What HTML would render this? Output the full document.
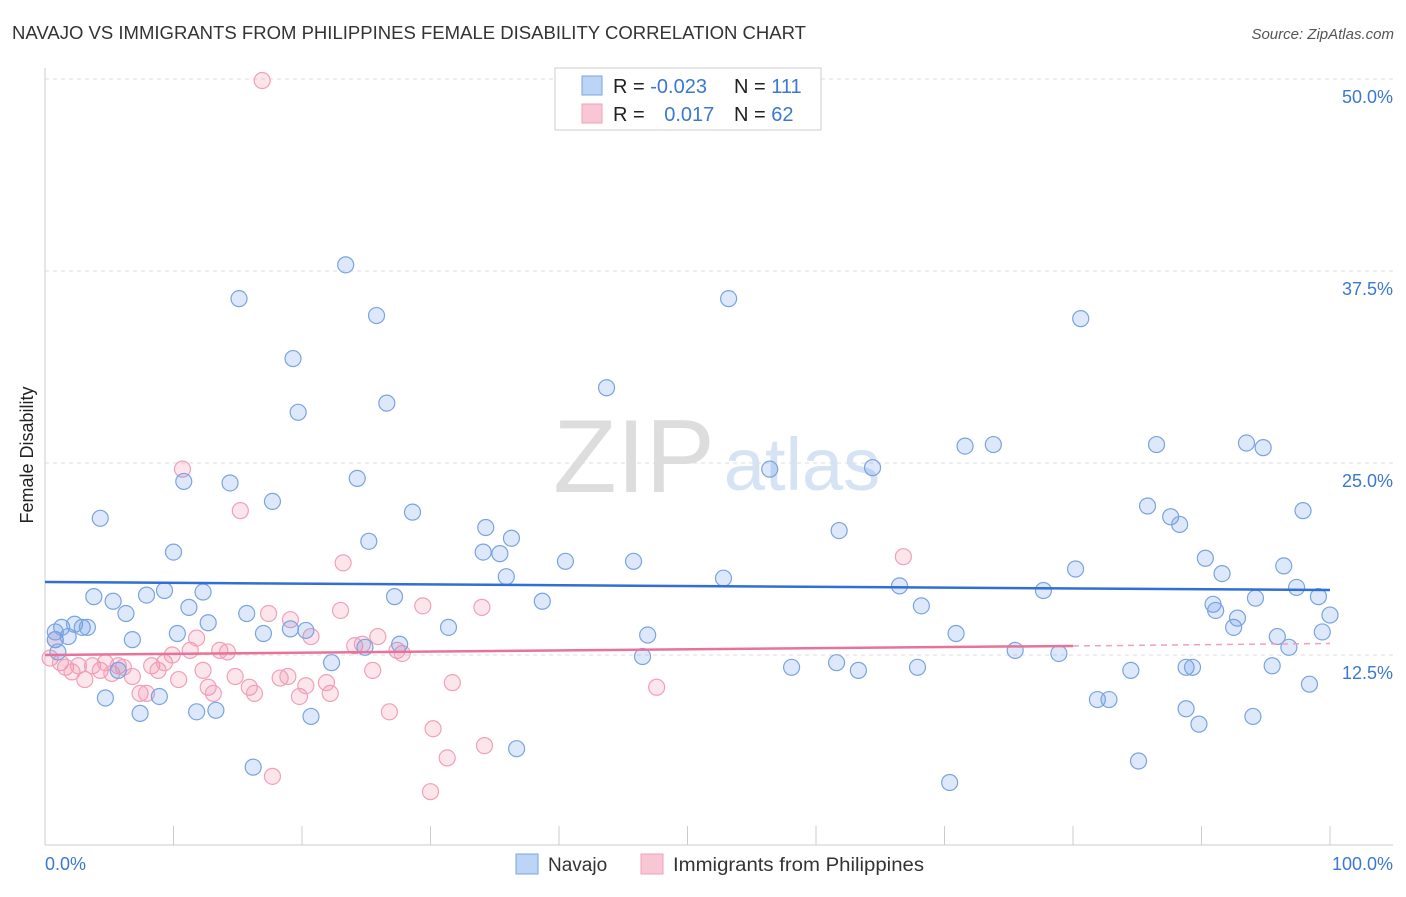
<!DOCTYPE html>
<html><head><meta charset="utf-8">
<style>
body{margin:0;background:#fff;font-family:"Liberation Sans",sans-serif;}
svg text{font-family:"Liberation Sans",sans-serif;}
</style></head>
<body>
<svg id="chart" width="1406" height="892">
<text x="12" y="39" font-size="18" fill="#333" textLength="794" lengthAdjust="spacingAndGlyphs">NAVAJO VS IMMIGRANTS FROM PHILIPPINES FEMALE DISABILITY CORRELATION CHART</text>
<text x="1394" y="39" font-size="15" fill="#555" font-style="italic" text-anchor="end">Source: ZipAtlas.com</text>
<text x="33" y="455" font-size="18" fill="#222" text-anchor="middle" transform="rotate(-90 33 455)">Female Disability</text>
<g>
<text x="634" y="492" font-size="104" fill="#ddd" font-family="Liberation Serif" text-anchor="middle">ZIP</text>
<text x="802" y="490" font-size="74" fill="#d5e3f5" text-anchor="middle">atlas</text>
</g>
<g id="grid"></g>
<g id="pts"></g>
<g id="trend"></g>
<g>
<rect x="555" y="68" width="266" height="62" fill="#fff" stroke="#ccc"/>
<rect x="582" y="76" width="20" height="19" fill="#bcd4f5" stroke="#7aa4e0"/>
<rect x="582" y="104" width="20" height="19" fill="#f8c6d4" stroke="#f0a0b8"/>
<text x="613" y="93" font-size="20" fill="#222">R = <tspan fill="#3a78d4">-0.023</tspan></text>
<text x="734" y="93" font-size="20" fill="#222">N = <tspan fill="#3a78d4">111</tspan></text>
<text x="613" y="121" font-size="20" fill="#222">R = <tspan fill="#3a78d4" dx="14">0.017</tspan></text>
<text x="734" y="121" font-size="20" fill="#222">N = <tspan fill="#3a78d4">62</tspan></text>
</g>
<g>
<rect x="516" y="854" width="22" height="20" fill="#bcd4f5" stroke="#7aa4e0"/>
<text x="548" y="871" font-size="19" fill="#333">Navajo</text>
<rect x="641" y="854" width="22" height="20" fill="#f8c6d4" stroke="#f0a0b8"/>
<text x="673" y="871" font-size="19" fill="#333" textLength="251" lengthAdjust="spacingAndGlyphs">Immigrants from Philippines</text>
</g>
</svg>
<script>
const yTicks=[12.5,25,37.5,50];
const yTickLabels=["12.5%","25.0%","37.5%","50.0%"];
const xTickLabels=["0.0%","100.0%"];
const navajoX=[0.8,0.8,1.0,1.3,1.8,2.3,2.9,3.3,3.8,4.3,4.7,5.3,5.7,6.3,6.8,7.4,7.9,8.9,9.3,10.0,10.3,11.2,11.8,12.3,12.7,13.3,14.4,10.8,15.1,15.7,16.2,17.0,17.7,19.1,19.3,19.7,20.3,20.7,22.3,23.4,24.3,24.9,25.2,25.8,26.6,27.2,27.6,28.6,31.4,34.1,34.3,35.4,35.9,36.3,36.7,38.7,40.5,43.7,45.8,46.5,46.9,52.8,53.2,56.4,58.1,61.6,61.8,63.3,64.4,66.5,67.9,68.2,70.4,70.9,71.6,73.8,75.5,77.7,78.9,80.2,80.6,81.9,82.8,84.5,85.1,85.8,86.5,87.6,88.3,88.8,89.3,90.3,90.9,91.1,91.6,92.5,92.8,93.5,94.0,94.2,94.8,95.5,95.9,96.4,96.8,97.4,97.9,98.4,99.1,99.4,100.0,89.8,88.8];
const navajoY=[14.0,13.5,12.7,14.3,13.7,14.5,14.3,14.3,16.3,21.4,9.7,16.0,11.5,15.2,13.5,8.7,16.4,9.8,16.7,19.2,13.9,15.6,8.8,16.6,14.6,8.9,23.7,23.8,35.7,15.2,5.2,13.9,22.5,14.2,31.8,28.3,14.1,8.5,12.0,37.9,24.0,13.0,19.9,34.6,28.9,16.3,13.2,21.8,14.3,19.2,20.8,19.1,17.6,20.1,6.4,16.0,18.6,29.9,18.6,12.4,13.8,17.5,35.7,24.6,11.7,12.0,20.6,11.5,24.7,17.0,11.7,15.7,4.2,13.9,26.1,26.2,12.8,16.7,12.6,18.1,34.4,9.6,9.6,11.5,5.6,22.2,26.2,21.5,21.0,11.7,11.7,18.8,15.8,15.4,17.8,14.3,14.9,26.3,8.5,16.2,26.0,11.8,13.7,18.3,13.0,16.9,21.9,10.6,16.3,14.0,15.1,8.0,9.0];
const philX=[16.9,10.7,15.2,23.2,66.8,0.4,0.8,1.2,1.6,2.1,2.6,3.1,3.7,4.3,4.7,5.2,5.7,6.1,6.8,7.4,7.9,8.3,8.8,9.3,9.9,10.4,11.3,11.8,12.3,12.7,13.1,13.6,14.2,14.8,15.9,16.3,17.4,17.7,18.3,18.9,19.1,19.8,20.3,20.7,22.2,21.9,23.0,24.1,24.7,25.5,25.9,26.8,27.4,27.8,29.4,30.2,30.0,31.3,31.7,34.0,34.2,47.6];
const philY=[49.9,24.6,21.9,18.5,18.9,12.3,13.5,12.0,11.7,11.4,11.8,10.9,11.8,11.5,12.0,11.3,11.8,11.7,11.1,10.0,10.0,11.8,11.5,12.0,12.5,10.9,12.8,13.6,11.5,10.4,10.0,12.8,12.7,11.1,10.4,10.0,15.2,4.6,11.0,11.1,14.8,9.8,10.5,13.7,10.0,10.7,15.4,13.1,13.2,11.5,13.7,8.8,12.8,12.6,15.7,7.7,3.6,5.8,10.7,15.6,6.6,10.4];
const navajoTrend=[17.25,16.73];
const philTrend=[12.5,13.09,13.25];

const NS="http://www.w3.org/2000/svg";
const X=v=>45+v*12.85;
const Y=v=>847-v*15.36;
function mk(tag,parent,attrs){const e=document.createElementNS(NS,tag);for(const k in attrs)e.setAttribute(k,attrs[k]);parent.appendChild(e);return e;}
const grid=document.getElementById('grid');
yTicks.forEach((t,i)=>{
  const l=mk('line',grid,{x1:45,x2:1393,y1:Y(t),y2:Y(t),stroke:'#ddd','stroke-dasharray':'4,4'});
  
  
  const tx=mk('text',grid,{x:1393,y:Y(t)+24,'font-size':18,fill:'#3a78d4','text-anchor':'end'});
  tx.textContent=yTickLabels[i];
  
  
});
const ax=mk('line',grid,{x1:45,x2:1393,y1:845,y2:845,stroke:'#ccc'});


const ay=mk('line',grid,{x1:45,x2:45,y1:68,y2:845,stroke:'#ccc'});


for(let i=1;i<=10;i++){
  const t=mk('line',grid,{x1:X(i*10),x2:X(i*10),y1:826,y2:845,stroke:'#ccc'});
  
  
}
[[0,'start',45],[100,'end',1393]].forEach((d,i)=>{
  const t=mk('text',grid,{x:d[2],y:870,'font-size':18,fill:'#3a78d4','text-anchor':d[1]});
  t.textContent=xTickLabels[i];
  
  
});
const pts=document.getElementById('pts');
philX.forEach((x,i)=>{
  const c=mk('circle',pts,{cx:X(x),cy:Y(philY[i]),r:8,fill:'rgba(240,140,170,0.22)',stroke:'#f0a0b8','stroke-width':1.2});
  
  
});
navajoX.forEach((x,i)=>{
  const c=mk('circle',pts,{cx:X(x),cy:Y(navajoY[i]),r:8,fill:'rgba(100,150,230,0.22)',stroke:'#7aa4e0','stroke-width':1.2});
  
  
});
const tr=document.getElementById('trend');
const l1=mk('line',tr,{x1:X(0),x2:X(100),y1:Y(navajoTrend[0]),y2:Y(navajoTrend[1]),stroke:'#2f6fd6','stroke-width':2.5});


const l2=mk('line',tr,{x1:X(0),x2:X(80),y1:Y(philTrend[0]),y2:Y(philTrend[1]),stroke:'#e8739a','stroke-width':2.5});


const l3=mk('line',tr,{x1:X(80),x2:X(100),y1:Y(philTrend[1]),y2:Y(philTrend[2]),stroke:'#f0a0b8','stroke-width':1.5,'stroke-dasharray':'6,5'});


</script>
</body></html>
